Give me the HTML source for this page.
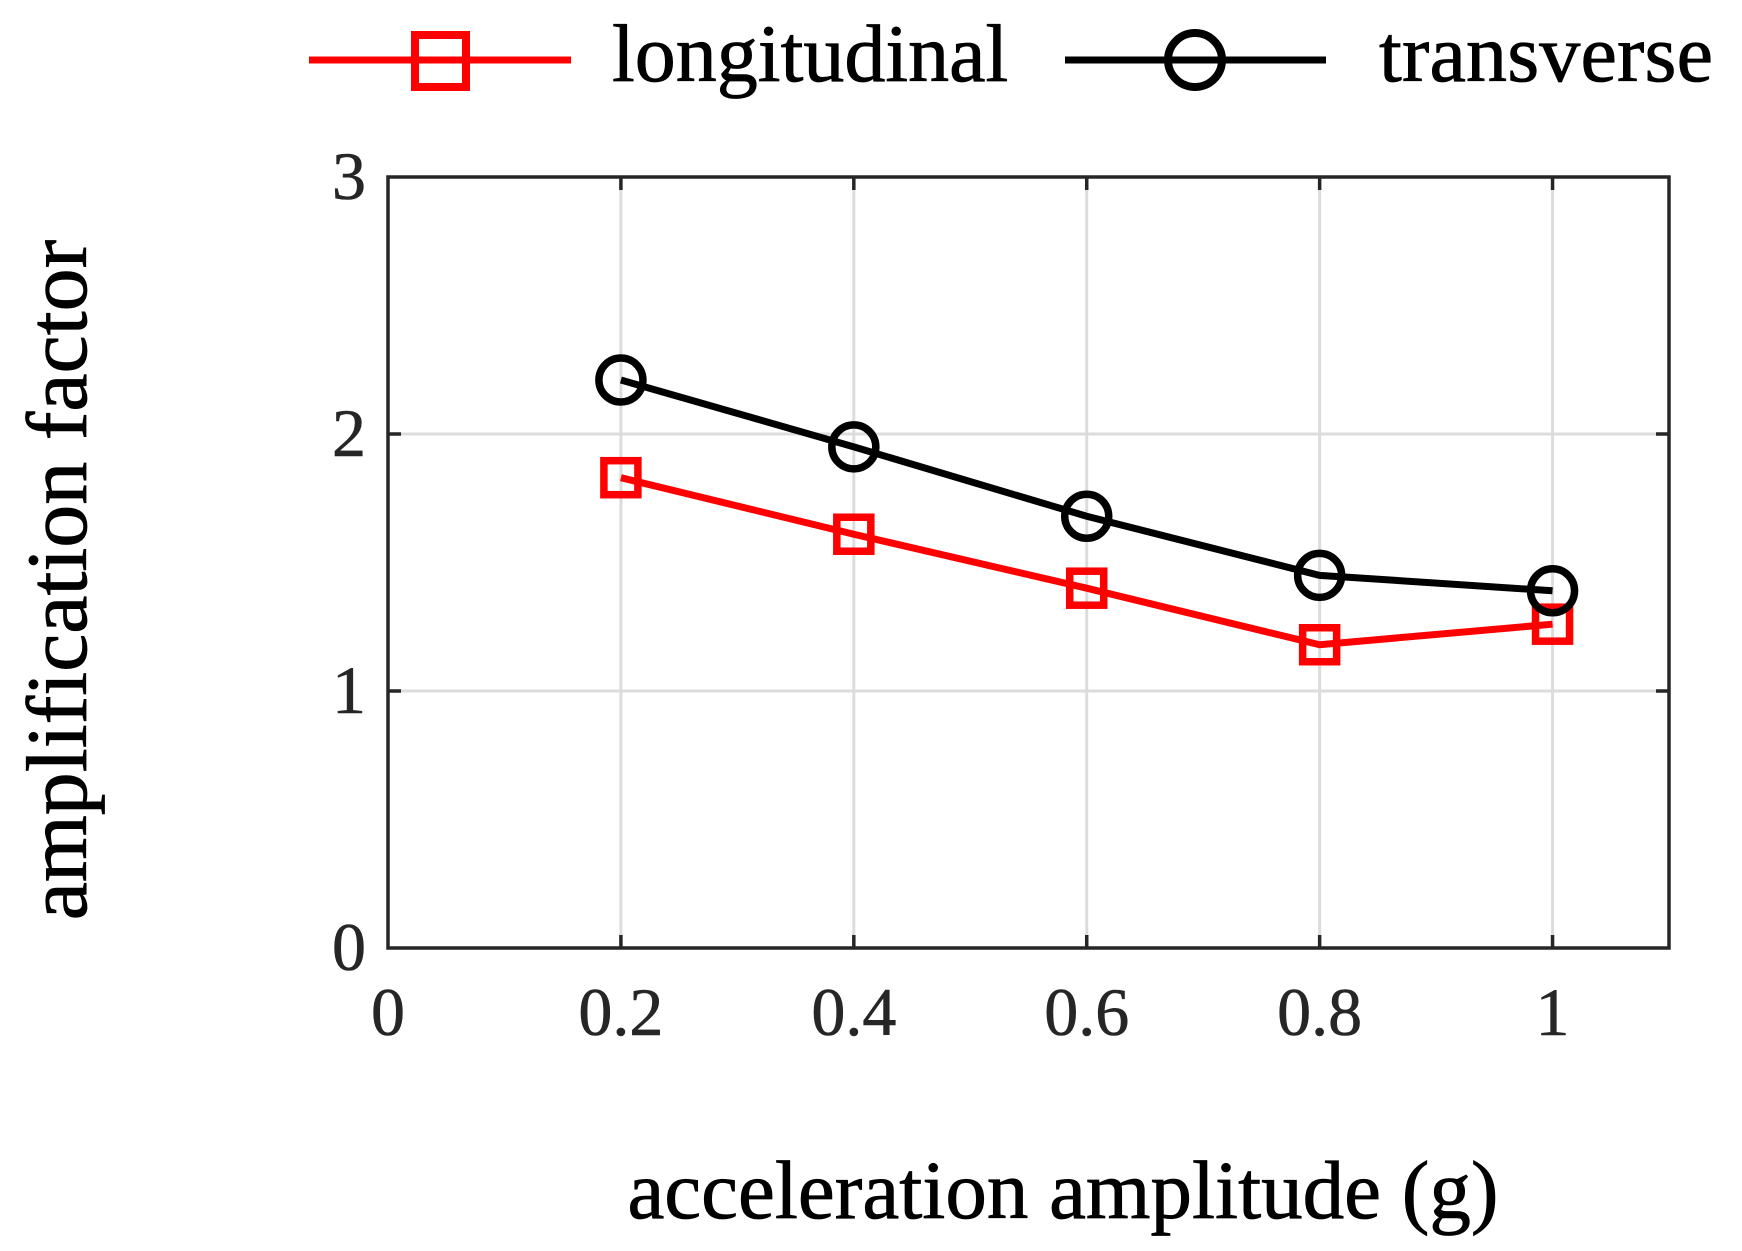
<!DOCTYPE html>
<html><head><meta charset="utf-8"><style>
html,body{margin:0;padding:0;background:#fff;}
svg{display:block;font-family:"Liberation Serif",serif;}
</style></head><body>
<svg id="chart" width="1742" height="1251" viewBox="0 0 1742 1251" xmlns="http://www.w3.org/2000/svg">
<g id="grid"></g>
<g id="series"></g>
<rect x="388" y="177" width="1281" height="771" fill="none" stroke="#262626" stroke-width="3.5"/>
<g id="ticks"></g>
<text x="1063" y="1218" font-size="83" text-anchor="middle" fill="#000" stroke="#000" stroke-width="0.8">acceleration amplitude (g)</text>
<text transform="translate(86,580) rotate(-90)" font-size="86" text-anchor="middle" fill="#000" stroke="#000" stroke-width="0.8">amplification factor</text>
<g>
  <g>
    <line x1="309" y1="60" x2="571" y2="60" stroke="#ff0000" stroke-width="7"/>
    <rect x="415" y="35" width="51" height="52" fill="none" stroke="#ff0000" stroke-width="8"/>
    <text x="612" y="81" font-size="82" fill="#000" stroke="#000" stroke-width="0.8">longitudinal</text>
  </g>
  <g>
    <line x1="1065" y1="60" x2="1326" y2="60" stroke="#000" stroke-width="7"/>
    <circle cx="1195" cy="60" r="27" fill="none" stroke="#000" stroke-width="8"/>
    <text x="1379" y="81" font-size="82" fill="#000" stroke="#000" stroke-width="0.8" textLength="334">transverse</text>
  </g>
</g>
</svg>
<script>
const xValues = [0.2, 0.4, 0.6, 0.8, 1.0];
const longitudinal = [1.83, 1.61, 1.40, 1.18, 1.26];
const transverse = [2.21, 1.95, 1.68, 1.45, 1.39];
const xTicks = [0, 0.2, 0.4, 0.6, 0.8, 1];
const xTickLabels = ["0", "0.2", "0.4", "0.6", "0.8", "1"];
const yTicks = [0, 1, 2, 3];
const yTickLabels = ["0", "1", "2", "3"];

const NS = "http://www.w3.org/2000/svg";
const L = 388, R = 1669, T = 177, B = 948;
const xs = v => L + (v / 1.1) * (R - L);
const ys = v => B - (v / 3) * (B - T);
function mk(tag, attrs, parent) {
  const e = document.createElementNS(NS, tag);
  for (const k in attrs) e.setAttribute(k, attrs[k]);
  parent.appendChild(e);
  return e;
}
const grid = document.getElementById('grid');
const ticks = document.getElementById('ticks');
const series = document.getElementById('series');

xTicks.forEach((v, i) => {
  const x = xs(v);
  if (v > 0) {
    const g = mk('line', {x1: x, y1: T, x2: x, y2: B, stroke: '#dcdcdc', 'stroke-width': 3}, grid);
    
    
    const t = mk('line', {x1: x, y1: B, x2: x, y2: B - 13, stroke: '#262626', 'stroke-width': 3.5}, ticks);
    
    
    const t2 = mk('line', {x1: x, y1: T, x2: x, y2: T + 13, stroke: '#262626', 'stroke-width': 3.5}, ticks);
    
    
  }
  const lab = mk('text', {x: x, y: 1035, 'font-size': 68, 'text-anchor': 'middle', fill: '#262626', stroke: '#262626', 'stroke-width': 0.6}, ticks);
  lab.textContent = xTickLabels[i];
  
  
});
yTicks.forEach((v, i) => {
  const y = ys(v);
  if (v > 0 && v < 3) {
    const g = mk('line', {x1: L, y1: y, x2: R, y2: y, stroke: '#dcdcdc', 'stroke-width': 3}, grid);
    
    
    const t = mk('line', {x1: L, y1: y, x2: L + 13, y2: y, stroke: '#262626', 'stroke-width': 3.5}, ticks);
    
    
    const t2 = mk('line', {x1: R, y1: y, x2: R - 13, y2: y, stroke: '#262626', 'stroke-width': 3.5}, ticks);
    
    
  }
  const lab = mk('text', {x: 366, y: y + 22, 'font-size': 68, 'text-anchor': 'end', fill: '#262626', stroke: '#262626', 'stroke-width': 0.6}, ticks);
  lab.textContent = yTickLabels[i];
  
  
});

function pts(arr) { return arr.map((v, i) => xs(xValues[i]) + ',' + ys(v)).join(' '); }
const lineL = mk('polyline', {points: pts(longitudinal), fill: 'none', stroke: '#ff0000', 'stroke-width': 7}, series);


longitudinal.forEach((v, i) => {
  const m = mk('rect', {x: xs(xValues[i]) - 17, y: ys(v) - 17, width: 34, height: 34, fill: 'none', stroke: '#ff0000', 'stroke-width': 7.5}, series);
  
  
});
const lineT = mk('polyline', {points: pts(transverse), fill: 'none', stroke: '#000', 'stroke-width': 7}, series);


transverse.forEach((v, i) => {
  const m = mk('circle', {cx: xs(xValues[i]), cy: ys(v), r: 22, fill: 'none', stroke: '#000', 'stroke-width': 7.5}, series);
  
  
});
</script>
</body></html>
